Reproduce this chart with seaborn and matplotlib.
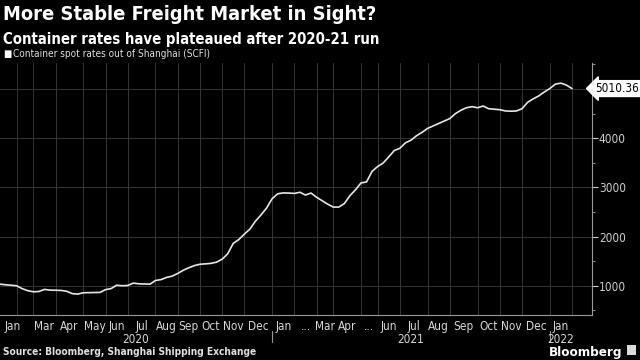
import numpy as np
import pandas as pd
import matplotlib
matplotlib.use("Agg")
import matplotlib.pyplot as plt
import seaborn as sns

# weekly SCFI readings, Jan 2020 -> Jan 2022 (index axis, one point per week)
scfi = [1032, 1020, 1010, 1000, 940, 900, 877, 883, 925, 911,
        908, 905, 888, 840, 830, 857, 860, 862, 864, 920,
        942, 1010, 1000, 1005, 1053, 1040, 1036, 1032, 1107, 1125,
        1170, 1195, 1250, 1315, 1365, 1410, 1437, 1445, 1455, 1480,
        1540, 1650, 1862, 1940, 2050, 2152, 2314, 2440, 2580, 2770,
        2870, 2888, 2885, 2878, 2901, 2845, 2885, 2800, 2730, 2660,
        2600, 2600, 2670, 2830, 2950, 3090, 3111, 3326, 3425, 3496,
        3620, 3750, 3795, 3906, 3960, 4050, 4120, 4200, 4250, 4300,
        4350, 4400, 4500, 4570, 4620, 4642, 4620, 4655, 4600, 4590,
        4580, 4555, 4550, 4555, 4600, 4730, 4800, 4860, 4940, 5010,
        5100, 5120, 5080, 5010.36]

# weeks in each month bucket on the chart
month_weeks = [3, 3, 4, 5, 4, 4, 5, 4, 4, 4, 4, 5,
               4, 4, 3, 5, 3, 4, 5, 4, 5, 4, 4, 5, 4]
month_labels = ["Jan", "", "Mar", "Apr", "May", "Jun", "Jul", "Aug", "Sep", "Oct", "Nov", "Dec",
                "Jan", "...", "Mar", "Apr", "...", "Jun", "Jul", "Aug", "Sep", "Oct", "Nov", "Dec",
                "Jan"]
years = ["2020", "2021", "2022"]
year_months = [12, 12, 1]
y_ticks = [1000, 2000, 3000, 4000]
last_label = "5010.36"

df = pd.DataFrame({"week": np.arange(len(scfi)), "scfi": scfi})

sns.set_theme(style="dark")
plt.rcParams["font.family"] = ["DejaVu Sans"]
plt.rcParams["font.stretch"] = "condensed"

fig = plt.figure(figsize=(6.4, 3.6), dpi=100, facecolor="black")
ax = fig.add_axes([0, 45 / 360, 592 / 640, 252 / 360])
ax.set_facecolor("black")

sns.lineplot(data=df, x="week", y="scfi", ax=ax, color="#e6e6e6", linewidth=1.2)

starts = np.concatenate([[0], np.cumsum(month_weeks)])
ax.set_xlim(0, 106.6)
ax.set_ylim(405, 5530)

grid_c = "#363636"
for s in starts[1:]:
    ax.axvline(s, color=grid_c, lw=0.7, zorder=0)
for v in [1000, 2000, 3000, 4000, 5000]:
    ax.axhline(v, color=grid_c, lw=0.7, zorder=0)

# right axis
ax.yaxis.tick_right()
ax.set_yticks(y_ticks)
ax.set_yticks([500, 1500, 2500, 3500, 4500, 5000, 5500], minor=True)
ax.tick_params(axis="y", which="major", colors="#cfcfcf", labelsize=8.5, length=4, width=0.8, pad=1)
ax.tick_params(axis="y", which="minor", colors="#8a8a8a", length=2, width=0.8)
ax.tick_params(axis="x", length=0)
ax.set_xticks([])
ax.set_xlabel("")
ax.set_ylabel("")
for sp in ["top", "left"]:
    ax.spines[sp].set_visible(False)
for sp in ["right", "bottom"]:
    ax.spines[sp].set_visible(True)
    ax.spines[sp].set_color("#9a9a9a")
    ax.spines[sp].set_linewidth(0.8)

# month labels centred in their bucket
for i, lab in enumerate(month_labels):
    c = (starts[i] + starts[i + 1]) / 2
    if i == 0:
        c = 2.3
    ax.text(c, -0.02, lab, transform=ax.get_xaxis_transform(), ha="center", va="top",
            color="#d8d8d8", fontsize=8.5)

# year labels and separators
mcum = np.concatenate([[0], np.cumsum(year_months)])
for j, yr in enumerate(years):
    a = starts[mcum[j]]
    b = starts[mcum[j + 1]]
    ax.text((a + b) / 2, -0.072, yr, transform=ax.get_xaxis_transform(), ha="center", va="top",
            color="#d8d8d8", fontsize=8.5)
    if j > 0:
        ax.plot([a, a], [-0.065, -0.108], transform=ax.get_xaxis_transform(), color="#9a9a9a",
                lw=0.8, clip_on=False)

# last value tag
ax.annotate(last_label, xy=(1.0, scfi[-1]), xycoords=("axes fraction", "data"),
            xytext=(2, 0), textcoords="offset points", ha="left", va="center",
            fontsize=8.5, color="black",
            bbox=dict(boxstyle="larrow,pad=0.12", fc="white", ec="white"))

fig.text(0.004, 0.985, "More Stable Freight Market in Sight?", color="white", fontsize=14.4,
         fontweight="bold", va="top", ha="left")
fig.text(0.004, 0.912, "Container rates have plateaued after 2020-21 run", color="white",
         fontsize=10.7, fontweight="bold", va="top", ha="left")
fig.text(0.005, 0.85, "\u25A0", color="white", fontsize=7, va="center", ha="left")
fig.text(0.02, 0.85, "Container spot rates out of Shanghai (SCFI)", color="#e0e0e0",
         fontsize=7.2, va="center", ha="left")
fig.text(0.004, 0.022, "Source: Bloomberg, Shanghai Shipping Exchange", color="#e0e0e0",
         fontsize=7.3, fontweight="bold", va="center", ha="left")
fig.text(0.973, 0.02, "Bloomberg", color="white", fontsize=9.6, fontweight="semibold",
         va="center", ha="right")
fig.patches.append(plt.Rectangle((627 / 640, 5 / 360), 9 / 640, 10 / 360, transform=fig.transFigure,
                                 fc="#dcdcdc", ec="none"))

fig.savefig("out.png", dpi=100, facecolor="black")
